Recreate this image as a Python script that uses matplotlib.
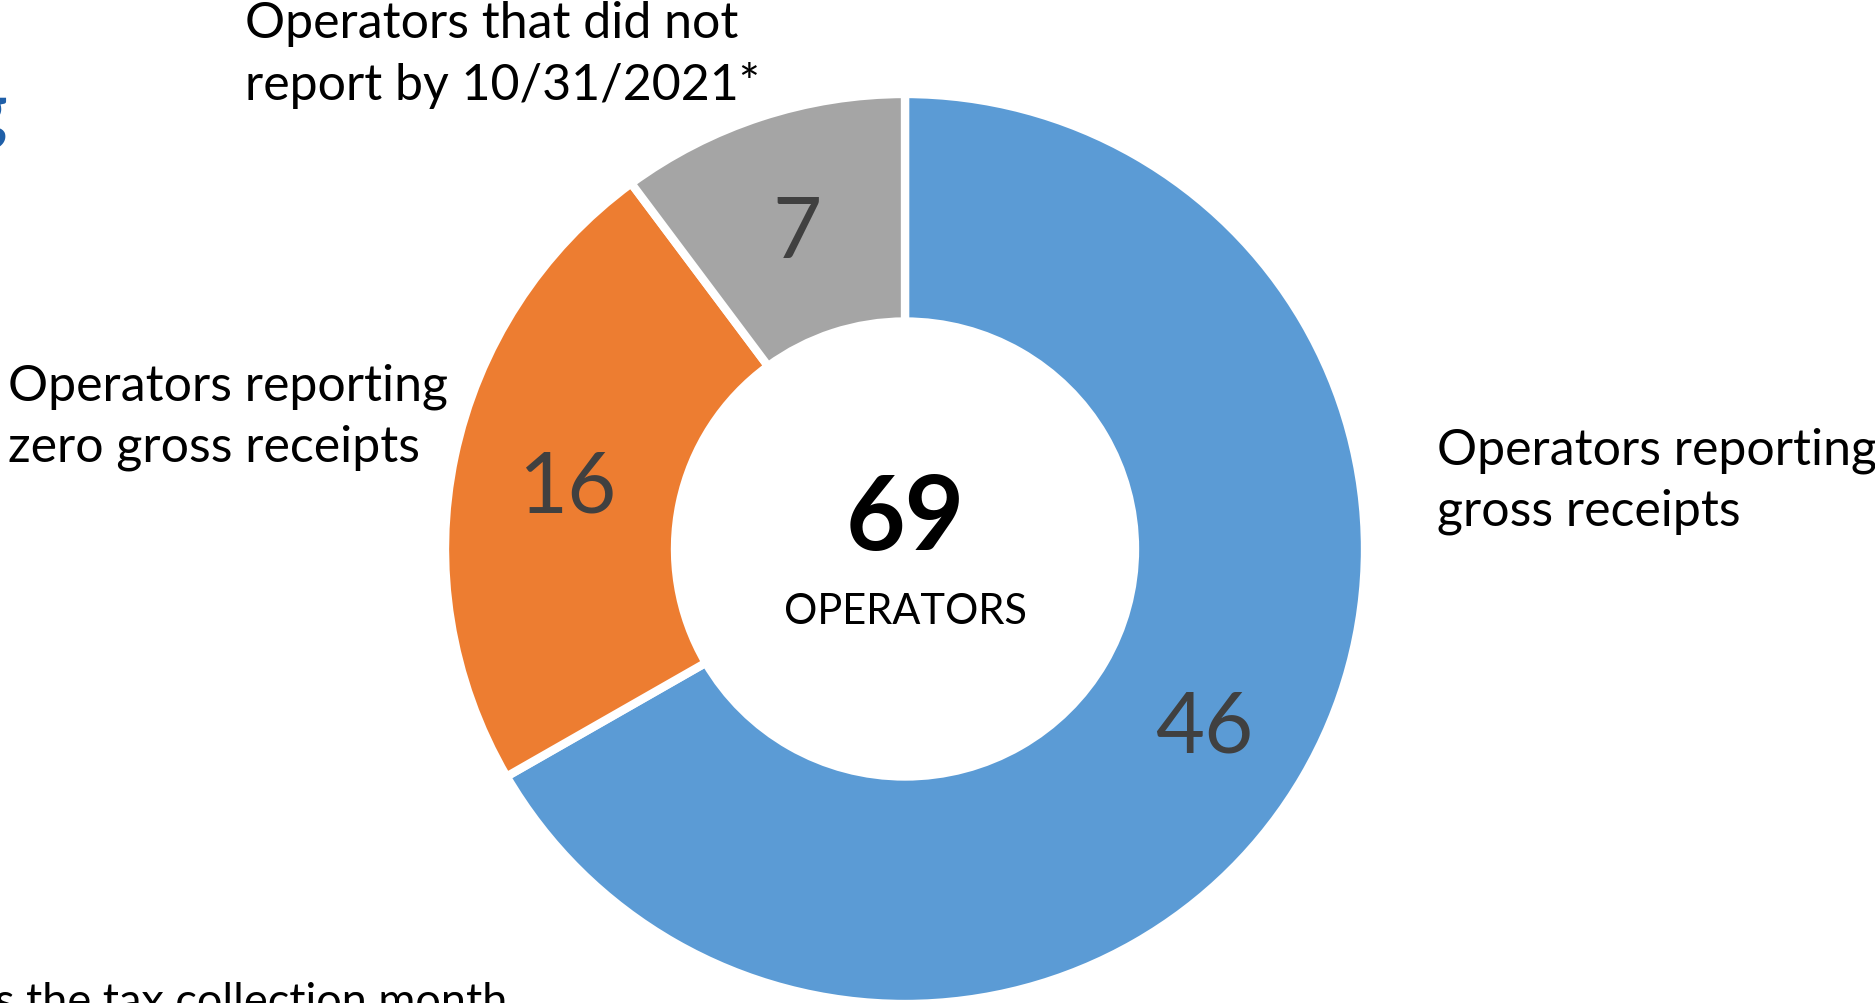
import matplotlib
matplotlib.use("Agg")
import matplotlib.pyplot as plt

# ---- data ----
categories = ["Operators reporting\ngross receipts",
              "Operators reporting\nzero gross receipts",
              "Operators that did not\nreport by 10/31/2021*"]
values = [46, 16, 7]
colors = ["#5B9BD5", "#ED7D31", "#A5A5A5"]
total_label = "OPERATORS"
footnote = "s the tax collection month"

W, H = 1875, 1004
plt.rcParams['font.family'] = ['Lato', 'DejaVu Sans']
fig = plt.figure(figsize=(W / 100, H / 100), dpi=100)
fig.patch.set_facecolor("white")

def px(x, y):
    return x / W, 1 - y / H

# donut axes: center (905, 550) px, outer radii ~460 x 455 px
cx, cy, Rx, Ry = 905, 550, 460, 455
ax = fig.add_axes([(cx - Rx) / W, (H - cy - Ry) / H, 2 * Rx / W, 2 * Ry / H])

tot = sum(values)
inner = 0.50
wedges, texts, autotexts = ax.pie(
    values, colors=colors, startangle=90, counterclock=False, radius=1.0,
    wedgeprops=dict(width=1 - inner, edgecolor="white", linewidth=6),
    autopct=lambda p: f"{round(p * tot / 100)}",
    pctdistance=(1 + inner) / 2,
    textprops=dict(color="#404040", fontsize=61))
for t in autotexts:
    x, y = t.get_position()
    t.set_position((x, y - 8 / Ry))
ax.set_xlim(-1, 1)
ax.set_ylim(-1, 1)
ax.set_aspect("auto")
ax.axis("off")

# center text
ax.text(0, 0.066, str(tot), ha="center", va="center", fontsize=74,
        fontweight="bold", color="black")
ax.text(0, -0.136, total_label, ha="center", va="center", fontsize=30,
        color="black")

# category labels
lab_kw = dict(fontsize=36, color="black", linespacing=1.4, ha="left", va="center")
fig.text(*px(1437, 481), categories[0], **lab_kw)
fig.text(*px(8, 417), categories[1], **lab_kw)
fig.text(*px(245, 55), categories[2], **lab_kw)

# cut-off footnote and title fragment
fig.text(*px(-5, 1015), footnote, ha="left", va="baseline", fontsize=32.5, color="black")
fig.text(*px(7, 135), "g", ha="right", va="baseline", fontsize=55,
         fontweight="bold", color="#1F5FA8")

fig.savefig("out.png", dpi=100, facecolor="white")
